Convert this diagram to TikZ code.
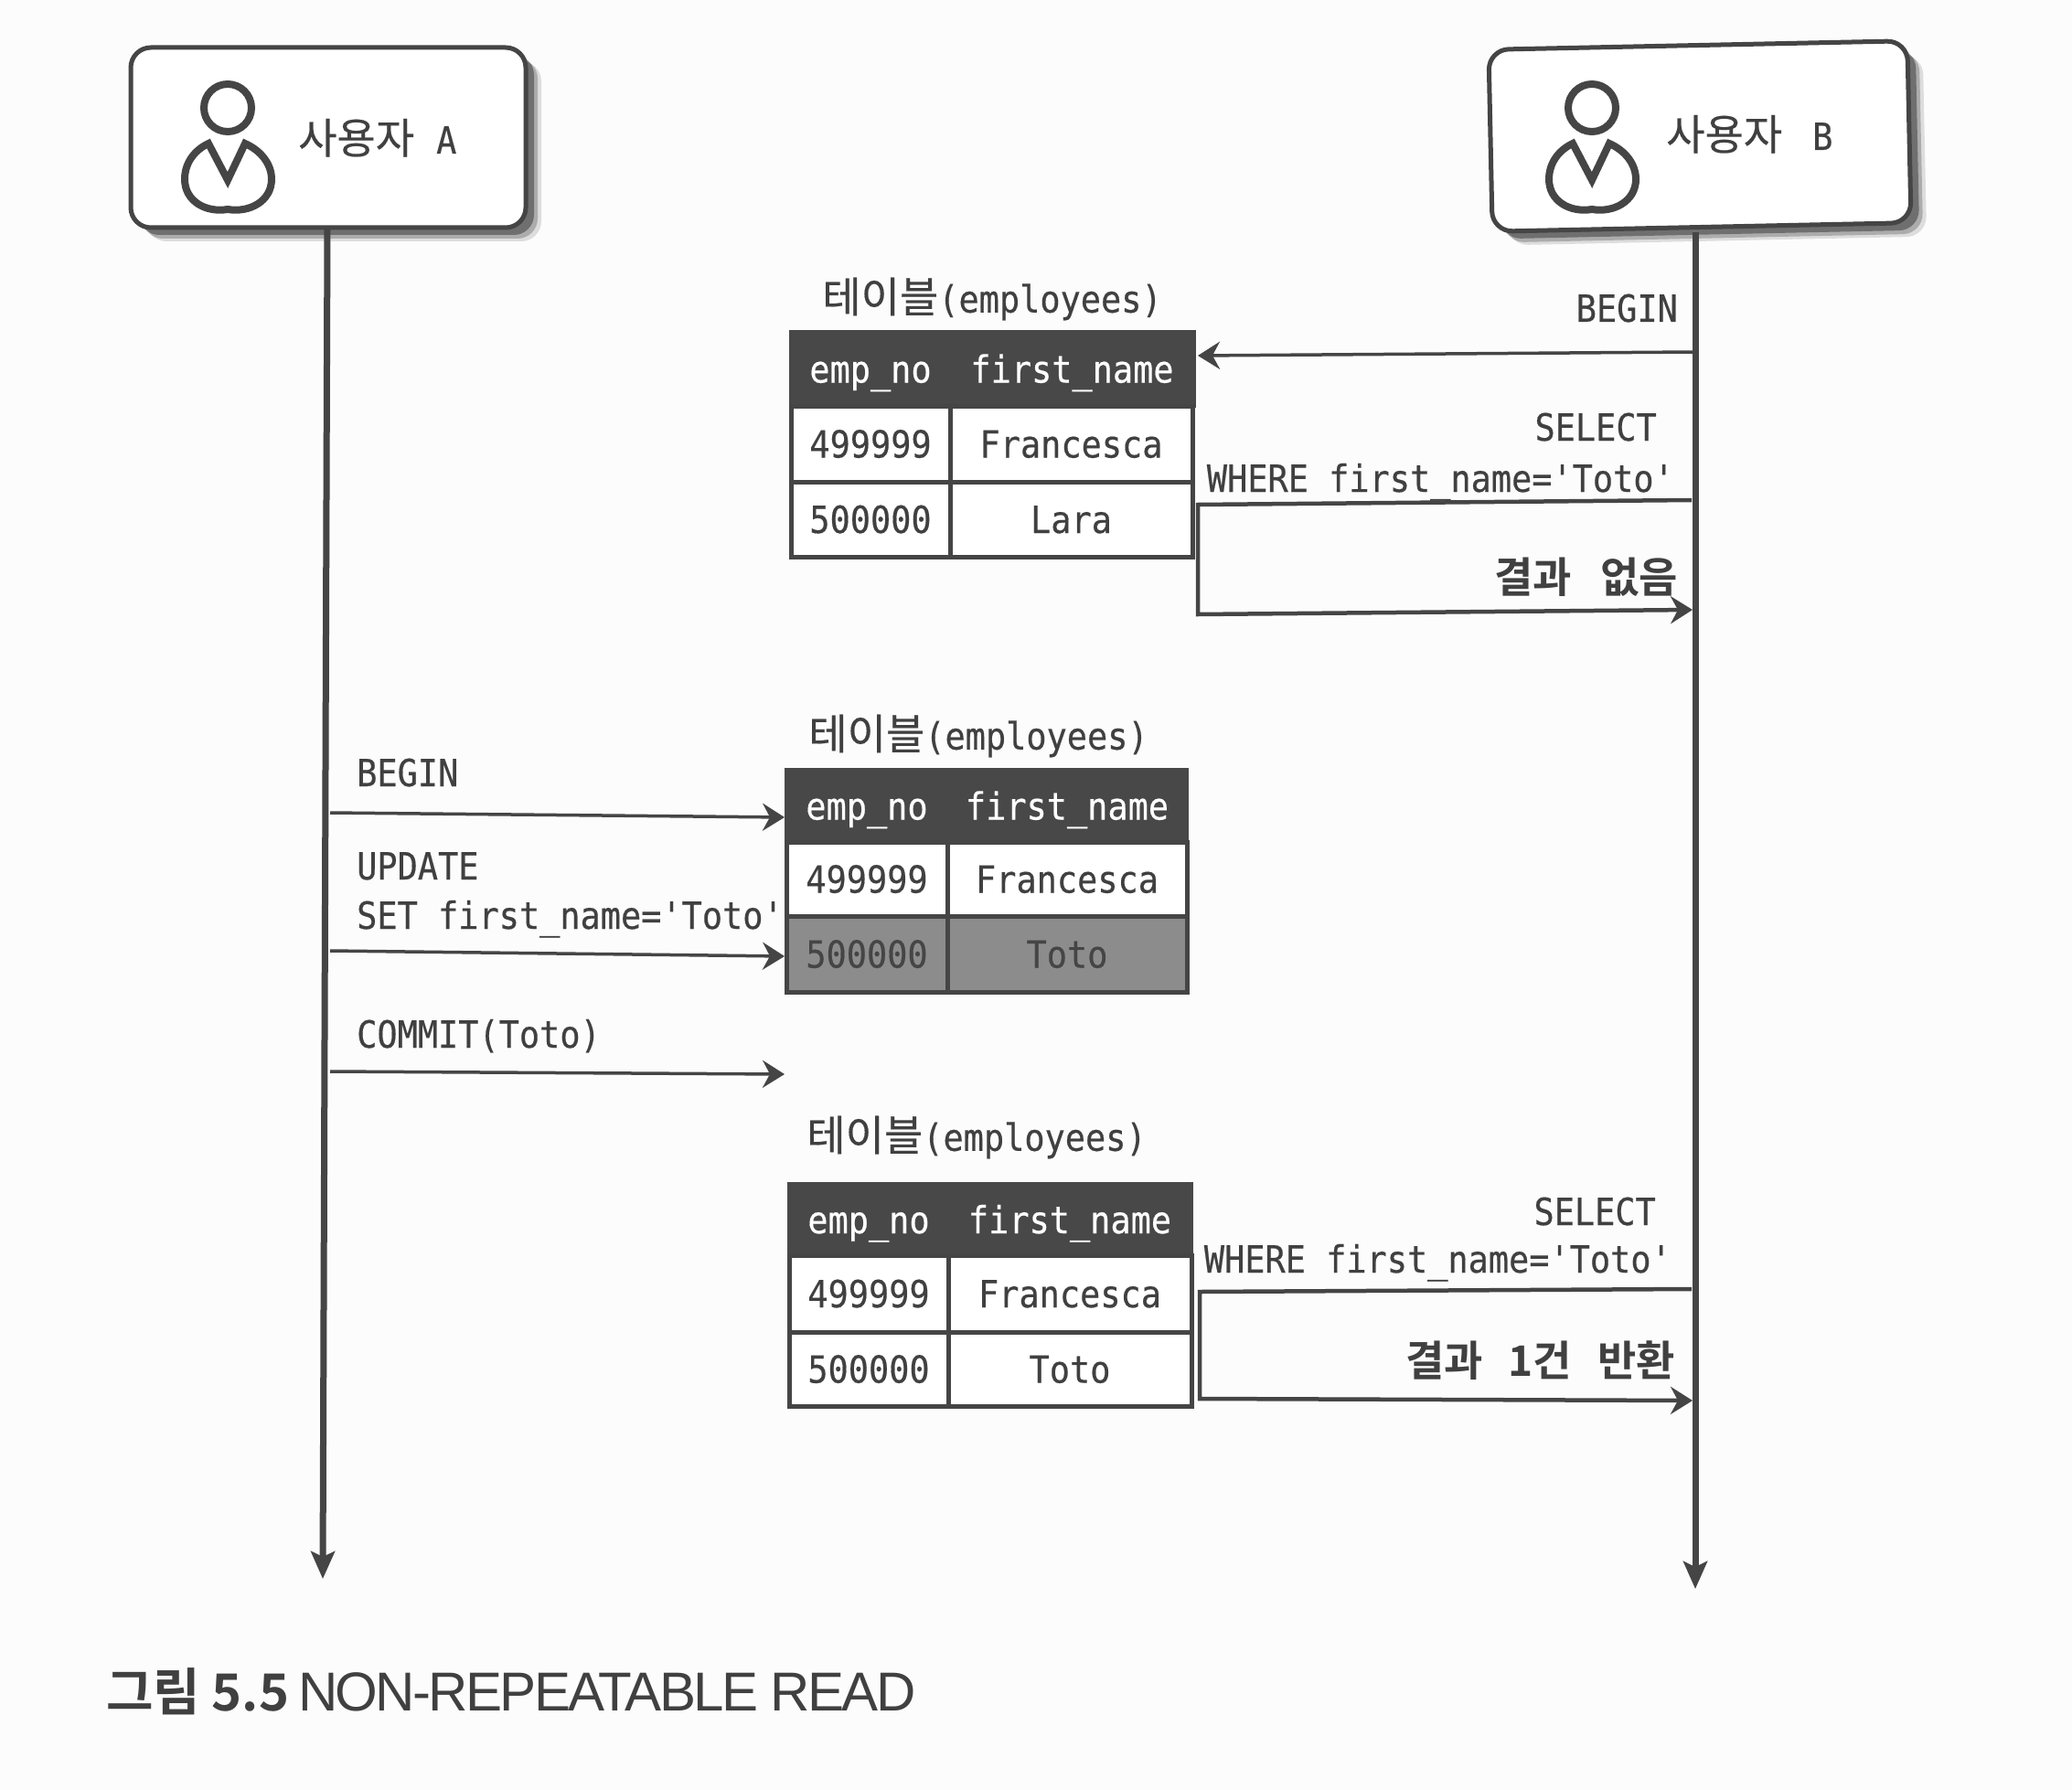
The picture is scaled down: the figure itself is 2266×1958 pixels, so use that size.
\documentclass[tikz,border=0pt]{standalone}
\usepackage{fontspec}
\usetikzlibrary{arrows.meta,shadows}
\setmainfont{Noto Sans CJK KR}
\setmonofont[FakeStretch=0.9,FakeBold=0.4]{DejaVu Sans Mono}
\newfontfamily\kr[FakeBold=0.4]{Noto Sans CJK KR}
\newfontfamily\krb{Noto Sans CJK KR Bold}
\newfontfamily\capfont[LetterSpace=-4.5]{Liberation Sans}
\definecolor{ink}{HTML}{454545}
\definecolor{txt}{HTML}{404040}
\definecolor{hdr}{HTML}{484848}
\definecolor{mid}{HTML}{8C8C8C}
\definecolor{paper}{HTML}{FCFCFC}
\newcommand\monosize{\fontsize{41}{48}\selectfont\ttfamily}
\newcommand\krsize{\fontsize{46}{48}\selectfont}
\newcommand\Cell[7]{%
  \pgfmathsetmacro\cw{#4-#2}\pgfmathsetmacro\ch{#5-#3}%
  \pgfmathsetmacro\cx{(#2+#4)/2}\pgfmathsetmacro\cy{(#3+#5)/2}%
  \node[#6,minimum width=\cw pt,minimum height=\ch pt,text height=30pt,text depth=0pt] (#1) at (\cx,\cy) {#7};}
\tikzset{
  x=1pt,y=-1pt,
  actor/.style={draw=ink,line width=5pt,fill=white,rounded corners=22pt,inner sep=0pt,
    drop shadow={shadow xshift=17pt,shadow yshift=-15pt,opacity=.12,fill=black},
    drop shadow={shadow xshift=13pt,shadow yshift=-12pt,opacity=.22,fill=black},
    drop shadow={shadow xshift=9pt,shadow yshift=-8pt,opacity=.35,fill=black}},
  lifeline/.style={draw=ink,line width=7pt,-{Stealth[length=30pt,width=26pt,inset=6pt]}},
  msg/.style={draw=ink,line width=3.5pt,-{Stealth[length=24pt,width=30pt,inset=8pt]}},
  reply/.style={draw=ink,line width=4.5pt,line join=miter,-{Stealth[length=24pt,width=30pt,inset=8pt]}},
  label/.style={inner sep=0pt,text=txt,font=\monosize,text height=30pt,text depth=0pt},
  result/.style={inner sep=0pt,text=txt,font=\krsize},
  title/.style={inner sep=0pt,text=txt,font=\monosize},
  headc/.style={draw=hdr,fill=hdr,line width=4pt,inner sep=0pt,text=white,font=\monosize},
  rowc/.style={draw=ink,fill=white,line width=5pt,inner sep=0pt,text=txt,font=\monosize},
  hotc/.style={draw=ink,fill=mid,line width=5pt,inner sep=0pt,text=ink,font=\monosize},
  person/.pic={
    \draw[ink,line width=8pt] (0,0) circle (26pt);
    \draw[ink,line width=8pt,line join=miter,miter limit=3]
      (0,79) -- (-21,39) .. controls (-38,47) and (-47,62) .. (-47,78)
      .. controls (-47,102) and (-24,115) .. (0,111)
      .. controls (24,115) and (48,102) .. (48,78)
      .. controls (48,62) and (37,47) .. (19,39) -- cycle;
  }
}
\begin{document}
\begin{tikzpicture}
\useasboundingbox (0,0) rectangle (2266,1958);
\fill[paper] (0,0) rectangle (2266,1958);

% actor boxes
\node[actor,minimum width=432pt,minimum height=197pt] (boxA) at (359,150.5) {};
\node[actor,rotate=1.2,minimum width=458pt,minimum height=199pt] (boxB) at (1859,149) {};
\pic (iconA) at (249,118) {person};
\pic (iconB) at (1741,118) {person};
\node[label,anchor=west] (nameA) at (326,153) {{\kr\krsize 사용자}\hspace{24pt}A};
\node[label,anchor=west] (nameB) at (1822,149) {{\kr\krsize 사용자}\hspace{33pt}B};

% lifelines
\coordinate (endA) at (353,1727);
\coordinate (endB) at (1854,1738);
\coordinate (topA) at (358,250);
\coordinate (topB) at (1854,254);
\draw[lifeline] (topA) -- (endA);
\draw[lifeline] (topB) -- (endB);

% table 1
\node[title] (title1) at (1085,327) {{\kr\krsize 테이블}(employees)};
\Cell{a1}{865}{363}{1039}{444}{headc}{emp\_no}
\Cell{a2}{1039}{363}{1306}{444}{headc}{first\_name}
\Cell{a3}{865}{444}{1039}{527}{rowc}{499999}
\Cell{a4}{1039}{444}{1304}{527}{rowc}{Francesca}
\Cell{a5}{865}{527}{1039}{609}{rowc}{500000}
\Cell{a6}{1039}{527}{1304}{609}{rowc}{Lara}

% table 2
\node[title] (title2) at (1070,805) {{\kr\krsize 테이블}(employees)};
\Cell{b1}{860}{842}{1036}{921}{headc}{emp\_no}
\Cell{b2}{1036}{842}{1298}{921}{headc}{first\_name}
\Cell{b3}{860}{921}{1036}{1002}{rowc}{499999}
\Cell{b4}{1036}{921}{1298}{1002}{rowc}{Francesca}
\Cell{b5}{860}{1002}{1036}{1085}{hotc}{500000}
\Cell{b6}{1036}{1002}{1298}{1085}{hotc}{Toto}

% table 3
\node[title] (title3) at (1068,1244) {{\kr\krsize 테이블}(employees)};
\Cell{c1}{863}{1295}{1037}{1373}{headc}{emp\_no}
\Cell{c2}{1037}{1295}{1303}{1373}{headc}{first\_name}
\Cell{c3}{863}{1373}{1037}{1457}{rowc}{499999}
\Cell{c4}{1037}{1373}{1303}{1457}{rowc}{Francesca}
\Cell{c5}{863}{1457}{1037}{1538}{rowc}{500000}
\Cell{c6}{1037}{1457}{1303}{1538}{rowc}{Toto}

% user B, first read
\coordinate (bB1) at (1852,385);
\coordinate (tB1) at (1310,389);
\draw[msg] (bB1) -- (tB1);
\node[label,anchor=east] (lbB1) at (1835,337) {BEGIN};
\node[label,anchor=east] (lbS1) at (1812,467) {SELECT};
\node[label,anchor=east] (lbW1) at (1831,523) {WHERE first\_name='Toto'};
\node[result,anchor=east] (lbR1) at (1835,631) {\krb 결과\hspace{31pt}없음};
\coordinate (sB1) at (1850,547);
\coordinate (sT1) at (1310,552);
\coordinate (sD1) at (1310,672);
\coordinate (sE1) at (1851,667);
\draw[reply] (sB1) -- (sT1) -- (sD1) -- (sE1);

% user A
\coordinate (bA1) at (361,889);
\coordinate (tA1) at (858,894);
\draw[msg] (bA1) -- (tA1);
\coordinate (bA2) at (361,1040);
\coordinate (tA2) at (858,1046);
\draw[msg] (bA2) -- (tA2);
\coordinate (bA3) at (361,1172);
\coordinate (tA3) at (858,1175);
\draw[msg] (bA3) -- (tA3);
\node[label,anchor=west] (lA1) at (390,845) {BEGIN};
\node[label,anchor=west] (lA2) at (390,947) {UPDATE};
\node[label,anchor=west] (lA3) at (390,1001) {SET first\_name='Toto'};
\node[label,anchor=west] (lA4) at (390,1131) {COMMIT(Toto)};

% user B, second read
\node[label,anchor=east] (lbS2) at (1811,1325) {SELECT};
\node[label,anchor=east] (lbW2) at (1828,1377) {WHERE first\_name='Toto'};
\node[result,anchor=east] (lbR2) at (1832,1488) {\krb 결과\hspace{28pt}{\fontsize{46}{48}\selectfont 1}건\hspace{28pt}반환};
\coordinate (sB2) at (1850,1410);
\coordinate (sT2) at (1312,1413);
\coordinate (sD2) at (1312,1530);
\coordinate (sE2) at (1851,1532);
\draw[reply] (sB2) -- (sT2) -- (sD2) -- (sE2);

% caption
\node[inner sep=0pt,anchor=west,text=txt,font=\fontsize{60}{64}\selectfont] (cap) at (116,1850)
  {{\krb\fontsize{56}{64}\selectfont 그림 5.5}\hspace{10pt}{\capfont NON-REPEATABLE READ}};
\end{tikzpicture}
\end{document}
